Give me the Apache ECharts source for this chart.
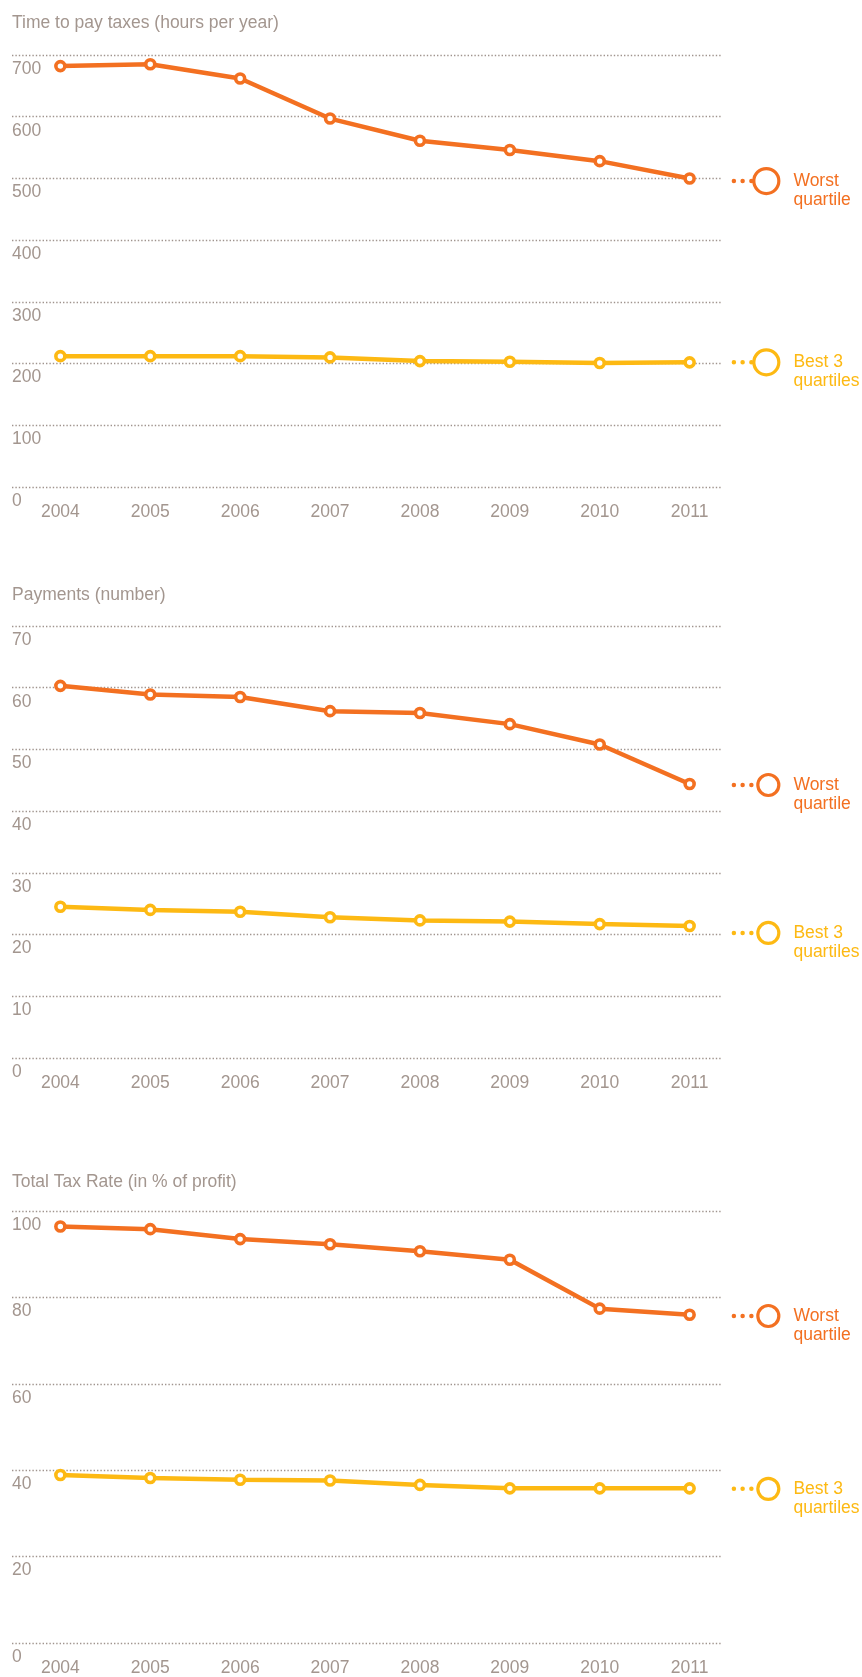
<!DOCTYPE html>
<html>
<head>
<meta charset="utf-8">
<script src="https://cdn.jsdelivr.net/npm/echarts@6/dist/echarts.min.js"></script>
<style>
html,body{margin:0;padding:0;background:#fff;}
#chart{width:862px;height:1677px;}
</style>
</head>
<body>
<div id="chart"></div>
<script>
// ---- Data ----
const years = [2004, 2005, 2006, 2007, 2008, 2009, 2010, 2011];

const timeWorst = [682, 685, 662, 597, 561, 546, 528, 500];
const timeBest  = [212, 212, 212, 210, 204, 203, 201, 202];

const payWorst = [60.3, 58.9, 58.5, 56.2, 55.9, 54.1, 50.8, 44.4];
const payBest  = [24.5, 24.0, 23.7, 22.8, 22.3, 22.1, 21.7, 21.4];

const ttrWorst = [96.4, 95.8, 93.5, 92.3, 90.7, 88.7, 77.4, 76.0];
const ttrBest  = [38.9, 38.2, 37.8, 37.6, 36.6, 35.8, 35.8, 35.8];

const titles = ['Time to pay taxes (hours per year)', 'Payments (number)', 'Total Tax Rate (in % of profit)'];
const yMax = [700, 70, 100];
const yStep = [100, 10, 20];
const worstName = 'Worst\nquartile';
const bestName = 'Best 3\nquartiles';

// ---- Styles ----
const ORANGE = '#f37021';
const YELLOW = '#fdb913';
const GREY = '#a3968f';
const FONT = 'Liberation Sans, Arial, Helvetica, sans-serif';
const FS = 17.5;
const DOTS = 'path://M0,2.25a2.25,2.25 0 1,1 4.5,0a2.25,2.25 0 1,1 -4.5,0Z M8.75,2.25a2.25,2.25 0 1,1 4.5,0a2.25,2.25 0 1,1 -4.5,0Z M17.5,2.25a2.25,2.25 0 1,1 4.5,0a2.25,2.25 0 1,1 -4.5,0Z';

const grids = [
  {left: 12, top: 55, width: 709, height: 432},
  {left: 12, top: 626, width: 709, height: 432},
  {left: 12, top: 1211, width: 709, height: 433}
];
const titleTops = [14, 586, 1173];
const legendCfg = [
  {size: 25, dx: 76.7, dyW: 2.6, dyB: 0},
  {size: 21, dx: 78.7, dyW: 1, dyB: 7},
  {size: 21, dx: 78.7, dyW: 1.3, dyB: 0.5}
];

function pairs(arr) { return years.map((y, i) => [y, arr[i]]); }

function legendMark(name, color, arr, cfg, dy) {
  const last = [years[years.length - 1], arr[arr.length - 1]];
  return {
    silent: true,
    animation: false,
    data: [
      {coord: last, symbol: DOTS, symbolSize: [22, 4.5], symbolOffset: [53, dy],
       itemStyle: {color: color}, label: {show: false}},
      {coord: last, symbol: 'circle', symbolSize: cfg.size, symbolOffset: [cfg.dx, dy],
       itemStyle: {color: '#fff', borderColor: color, borderWidth: 3.2},
       label: {show: true, position: 'right', distance: 13, formatter: name,
               color: color, fontSize: FS, lineHeight: 19, fontFamily: FONT, offset: [0, 9.5]}}
    ]
  };
}

function lineSeries(idx, arr, color, name, cfg, dy) {
  return {
    type: 'line',
    xAxisIndex: idx, yAxisIndex: idx,
    data: pairs(arr),
    symbol: 'circle',
    symbolSize: 9,
    showAllSymbol: true,
    lineStyle: {color: color, width: 4.5},
    itemStyle: {color: '#fff', borderColor: color, borderWidth: 3.6},
    emphasis: {disabled: true},
    z: 3,
    markPoint: legendMark(name, color, arr, cfg, dy)
  };
}

const worstSets = [timeWorst, payWorst, ttrWorst];
const bestSets = [timeBest, payBest, ttrBest];

const option = {
  animation: false,
  backgroundColor: '#fff',
  textStyle: {fontFamily: FONT},
  title: titles.map((t, i) => ({
    text: t, left: 12, top: titleTops[i], padding: 0,
    textStyle: {color: GREY, fontSize: FS, fontWeight: 'normal', fontFamily: FONT}
  })),
  grid: grids,
  xAxis: grids.map((g, i) => ({
    type: 'value', gridIndex: i,
    min: 2003.462, max: 2011.349,
    axisLine: {show: false}, axisTick: {show: false}, splitLine: {show: false},
    axisLabel: {
      customValues: years, color: GREY, fontSize: FS, fontFamily: FONT, margin: 16,
      formatter: v => String(v)
    }
  })),
  yAxis: grids.map((g, i) => ({
    type: 'value', gridIndex: i,
    min: 0, max: yMax[i], interval: yStep[i],
    axisLine: {show: false}, axisTick: {show: false},
    splitLine: {show: true, lineStyle: {color: '#a0948e', width: 1.4, type: [1.4, 2]}},
    axisLabel: {
      inside: true, margin: 0, verticalAlign: 'top', padding: [5, 0, 0, 0],
      color: GREY, fontSize: FS, fontFamily: FONT
    }
  })),
  series: [].concat(...[0, 1, 2].map(i => [
    lineSeries(i, bestSets[i], YELLOW, bestName, legendCfg[i], legendCfg[i].dyB),
    lineSeries(i, worstSets[i], ORANGE, worstName, legendCfg[i], legendCfg[i].dyW)
  ]))
};

const chart = echarts.init(document.getElementById('chart'), null, {renderer: 'canvas'});
chart.setOption(option);
</script>
</body>
</html>
